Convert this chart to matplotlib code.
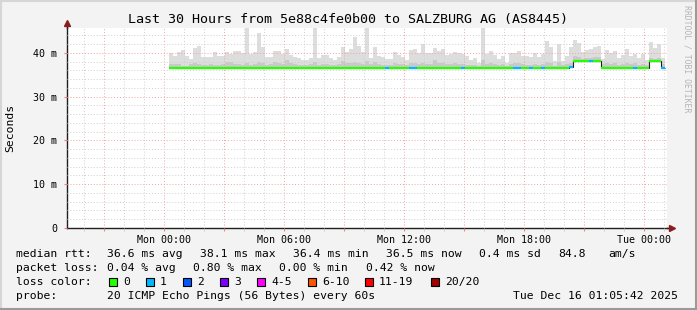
import matplotlib
matplotlib.use('Agg')
import matplotlib.pyplot as plt
import matplotlib.dates as mdates
import matplotlib.patches as mpatches
import matplotlib.ticker as mticker
import pandas as pd

plt.rcParams['font.family'] = 'DejaVu Sans Mono'

W, H = 697, 310

title = "Last 30 Hours from 5e88c4fe0b00 to SALZBURG AG (AS8445)"

# 30 hour window, smoke steps of 12 minutes starting Mon 00:15
view_start = pd.Timestamp('2025-12-14 19:09')
view_end = pd.Timestamp('2025-12-16 01:09')
bar_start = pd.Timestamp('2025-12-15 00:15')

# upper edge of the light smoke (ms)
smoke_top = [
    40.0, 39.4, 40.3, 40.6, 39.3, 38.7, 41.1, 41.7, 39.0, 39.0,
    39.1, 40.2, 39.2, 39.2, 40.2, 39.7, 40.5, 40.5, 39.9, 45.8,
    39.7, 40.3, 44.6, 41.4, 39.1, 39.1, 40.5, 40.5, 39.7, 40.8,
    39.5, 39.0, 38.9, 38.4, 38.4, 38.9, 45.8, 38.9, 39.6, 39.6,
    38.8, 38.4, 39.0, 41.4, 40.2, 41.0, 43.7, 41.5, 40.2, 45.8,
    38.9, 41.4, 39.4, 39.1, 38.6, 38.6, 40.3, 39.5, 39.1, 38.3,
    40.6, 40.9,
    40.0, 42.0, 40.0, 40.0, 41.1, 40.5, 40.8, 39.6, 39.8, 40.2,
    39.9, 39.8, 39.3, 38.5, 38.9, 37.8, 45.8, 39.8, 40.4, 39.6,
    38.7, 39.3, 37.8, 40.0, 40.0, 40.4, 39.3, 39.2, 39.0, 40.0,
    39.0, 39.8, 42.8, 41.4, 38.2, 42.0, 38.2, 39.3, 41.3, 43.0,
    42.2, 40.2, 40.6, 40.9, 41.4, 41.5, 38.6, 40.6, 39.9, 40.5,
    38.9, 39.6, 40.9, 39.2, 39.8, 38.9, 39.7, 38.4, 42.6, 41.2,
    42.1, 38.9,
]

# upper edge of the darker inner smoke (ms)
smoke_mid = [
    37.5, 37.4, 37.5, 37.1, 37.0, 37.4, 37.6, 37.5, 37.2, 37.3,
    37.4, 37.3, 37.3, 37.4, 38.0, 38.0, 37.5, 37.4, 37.3, 37.6,
    37.3, 37.5, 38.0, 37.6, 37.3, 37.4, 37.9, 37.7, 37.4, 38.4,
    37.8, 37.4, 37.3, 37.2, 37.3, 37.4, 37.9, 37.3, 37.4, 37.5,
    37.2, 37.2, 37.4, 38.1, 37.7, 37.6, 38.0, 37.8, 37.5, 38.2,
    37.4, 37.9, 37.5, 37.3, 37.2, 37.3, 37.6, 37.5, 37.4, 37.2,
    37.7, 37.8,
    37.5, 37.7, 37.4, 37.5, 38.3, 37.6, 37.8, 37.4, 37.5, 37.6,
    37.4, 37.5, 37.3, 37.2, 37.3, 37.1, 38.4, 37.5, 37.6, 37.4,
    37.2, 37.4, 37.1, 37.5, 37.6, 37.7, 37.4, 37.3, 37.3, 37.5,
    37.3, 37.5, 38.0, 37.8, 37.1, 37.9, 37.2, 37.5, 37.7, 39.3,
    39.0, 38.7, 38.8, 38.9, 39.0, 39.1, 37.4, 37.8, 37.5, 37.7,
    37.3, 37.5, 37.8, 37.4, 37.6, 37.3, 37.5, 37.2, 38.9, 38.7,
    38.9, 37.4,
]

# lower edge of the smoke (minimum rtt, ms)
smoke_low = [36.45] * 100 + [36.8] + [38.0] * 7 + [36.45] * 12 + [38.0] * 3 + [36.4]

# median rtt (ms)
median = [36.6] * 100 + [36.9] + [38.1] * 7 + [36.6] * 12 + [38.1] * 3 + [36.5]

# steps where one of the 20 pings was lost
loss_bars = [54, 60, 61, 73, 86, 87, 90, 93, 100, 105, 116, 123]

loss_labels = ['0', '1', '2', '3', '4-5', '6-10', '11-19', '20/20']
loss_colors = ['#26ff00', '#00b8ff', '#0059ff', '#7e00ff',
               '#ff00ff', '#ff5500', '#ff0000', '#a10000']

rtt_stats = [("36.6 ms avg", 107), ("38.1 ms max", 200), ("36.4 ms min", 293),
             ("36.5 ms now", 386), ("0.4 ms sd", 479), ("84.8", 558), ("am/s", 608)]
loss_stats = [("0.04 % avg", 107), ("0.80 % max", 193), ("0.00 % min", 279),
              ("0.42 % now", 366)]
probe_text = "20 ICMP Echo Pings (56 Bytes) every 60s"
stamp_text = "Tue Dec 16 01:05:42 2025"


def fx(px):
    return px / W


def fy(py):
    return 1 - py / H


fig = plt.figure(figsize=(W / 100, H / 100), dpi=100, facecolor='#f3f3f3')
ax = fig.add_axes([fx(67), fy(228), 600 / W, 200 / H])
ax.set_facecolor('white')

n = len(smoke_top)
edges = mdates.date2num(pd.date_range(bar_start, periods=n + 1, freq='12min'))

# smoke
ax.stairs(smoke_top, edges, baseline=smoke_low, fill=True, color='#dddddd', lw=0, zorder=1)
ax.stairs(smoke_mid, edges, baseline=smoke_low, fill=True, color='#c9c9c9', lw=0, zorder=1.1)

# median line: dark step line under loss-coloured segments
ax.stairs(median, edges, baseline=None, color='#202020', lw=0.8, zorder=3)
seg_colors = [loss_colors[1] if i in loss_bars else loss_colors[0] for i in range(n)]
ax.hlines(median, edges[:-1], edges[1:], colors=seg_colors, lw=1.6, zorder=3.2)

ax.set_xlim(mdates.date2num(view_start), mdates.date2num(view_end))
ax.set_ylim(0, 45.71)

# grid
ax.xaxis.set_major_locator(mdates.HourLocator(byhour=range(0, 24, 3)))
ax.xaxis.set_minor_locator(mdates.HourLocator())


def xfmt(x, pos):
    d = mdates.num2date(x)
    return d.strftime('%a %H:%M') if d.hour % 6 == 0 else ''


ax.xaxis.set_major_formatter(mticker.FuncFormatter(xfmt))
ax.yaxis.set_major_locator(mticker.MultipleLocator(10))
ax.yaxis.set_minor_locator(mticker.MultipleLocator(2))
ax.yaxis.set_major_formatter(mticker.FuncFormatter(
    lambda v, pos: '0' if v == 0 else f'{v:.0f} m'))

ax.set_axisbelow(False)
ax.grid(which='major', color='#f2a3a3', ls=(0, (1, 2)), lw=0.7)
ax.grid(which='minor', color='#cfcfcf', ls=(0, (1, 2)), lw=0.7)

ax.tick_params(axis='x', which='major', length=2.5, color='#f08080', labelsize=7.2, pad=2.5)
ax.tick_params(axis='x', which='minor', length=2, color='#c8c8c8')
ax.tick_params(axis='y', which='major', length=2, color='#f08080', labelsize=7.2, pad=5)
ax.tick_params(axis='y', which='minor', length=0)

for s in ['top', 'right']:
    ax.spines[s].set_visible(False)
for s in ['left', 'bottom']:
    ax.spines[s].set_color('#202020')
    ax.spines[s].set_linewidth(1.0)

# axis arrows
ax.plot([0, 0], [1.0, 1.02], color='#202020', lw=1.0, transform=ax.transAxes, clip_on=False)
ax.plot([0], [1.025], marker='^', ms=5, color='#8b1a1a', transform=ax.transAxes, clip_on=False)
ax.plot([1.0, 1.007], [0, 0], color='#202020', lw=1.0, transform=ax.transAxes, clip_on=False)
ax.plot([1.009], [0], marker='>', ms=5, color='#8b1a1a', transform=ax.transAxes, clip_on=False)

# texts
fig.text(0.5, fy(19), title, ha='center', va='center', fontsize=9.6)
fig.text(fx(10), fy(128), 'Seconds', rotation=90, ha='center', va='center', fontsize=8.2)
fig.text(fx(687), fy(5), 'RRDTOOL / TOBI OETIKER', rotation=270, ha='center', va='top',
         fontsize=5.9, color='#b5b5b5')

fs = 8.2
fig.text(fx(16), fy(254), 'median rtt:', ha='left', va='center', fontsize=fs)
for txt, x in rtt_stats:
    fig.text(fx(x), fy(254), txt, ha='left', va='center', fontsize=fs)
fig.text(fx(16), fy(268), 'packet loss:', ha='left', va='center', fontsize=fs)
for txt, x in loss_stats:
    fig.text(fx(x), fy(268), txt, ha='left', va='center', fontsize=fs)
fig.text(fx(16), fy(282), 'loss color:', ha='left', va='center', fontsize=fs)
box_x = [109, 146, 183, 220, 257, 308, 365, 431]
for lab, col, x in zip(loss_labels, loss_colors, box_x):
    fig.patches.append(mpatches.Rectangle((fx(x), fy(286)), 8 / W, 8 / H,
                                          transform=fig.transFigure, facecolor=col,
                                          edgecolor='black', lw=0.8))
    fig.text(fx(x + 14), fy(282), lab, ha='left', va='center', fontsize=fs)
fig.text(fx(16), fy(296), 'probe:', ha='left', va='center', fontsize=fs)
fig.text(fx(107), fy(296), probe_text, ha='left', va='center', fontsize=fs)
fig.text(fx(513), fy(296), stamp_text, ha='left', va='center', fontsize=fs)

# 3d frame
fig.add_artist(plt.Line2D([0, 1], [fy(1), fy(1)], color='#d6d6d6', lw=1.5, transform=fig.transFigure))
fig.add_artist(plt.Line2D([fx(1), fx(1)], [0, 1], color='#d6d6d6', lw=1.5, transform=fig.transFigure))
fig.add_artist(plt.Line2D([0, 1], [fy(309), fy(309)], color='#9a9a9a', lw=1.5, transform=fig.transFigure))
fig.add_artist(plt.Line2D([fx(696), fx(696)], [0, 1], color='#9a9a9a', lw=1.5, transform=fig.transFigure))

fig.savefig('out.png', dpi=100, facecolor=fig.get_facecolor())
